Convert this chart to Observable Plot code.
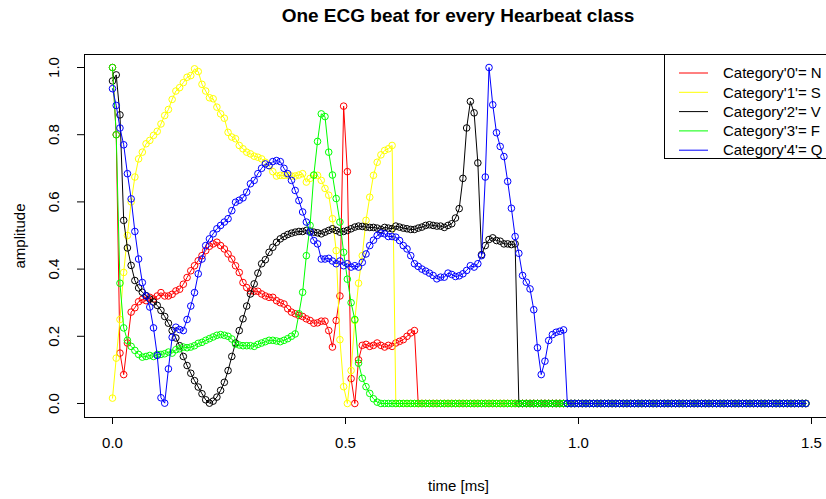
<!DOCTYPE html>
<html><head><meta charset="utf-8">
<script src="https://cdn.jsdelivr.net/npm/d3@7"></script>
<script src="https://cdn.jsdelivr.net/npm/@observablehq/plot@0.6"></script>
<style>
body{margin:0;background:#fff;}
#title{width:826px;height:34px;box-sizing:border-box;padding-left:90px;text-align:center;font:bold 19px "Liberation Sans",Arial,sans-serif;line-height:32px;color:#000;}
</style></head><body>
<div id="title">One ECG beat for every Hearbeat class</div>
<div id="chart"></div>
<script>
// Sampling rate of the beats (Hz): sample i is at time i / SAMPLE_RATE
const SAMPLE_RATE = 125;

const labels = ["Category'0'= N", "Category'1'= S", "Category'2'= V", "Category'3'= F", "Category'4'= Q"];
const colors = ["#FF0000", "#FFFF00", "#000000", "#00FF00", "#0000FF"];
const xTicks = [0, 0.5, 1.0, 1.5];
const yTicks = [0, 0.2, 0.4, 0.6, 0.8, 1.0];

const catN = [1.0,0.80,0.15,0.086,0.18,0.272,0.285,0.303,0.31,0.306,
0.316,0.311,0.32,0.33,0.32,0.32,0.325,0.335,0.34,0.355,
0.375,0.395,0.41,0.425,0.44,0.455,0.468,0.475,0.48,0.47,
0.46,0.445,0.43,0.41,0.39,0.36,0.345,0.335,0.334,0.334,
0.326,0.32,0.316,0.316,0.306,0.30,0.296,0.282,0.272,0.267,
0.262,0.259,0.252,0.247,0.239,0.24,0.245,0.245,0.217,0.168,
0.247,0.32,0.885,0.69,0.074,0.0,0.13,0.173,0.176,0.17,
0.173,0.18,0.173,0.168,0.173,0.17,0.18,0.185,0.19,0.2,
0.21,0.217,
0,0,0,0,0,0,0,0,0,0, 0,0,0,0,0,0,0,0,0,0, 0,0,0,0,0,0,0,0,0,0, 0,0,0,0,0,0,0,0,0,0, 0,0,0,0,0,0,0,0,0,0,
0,0,0,0,0,0,0,0,0,0, 0,0,0,0,0,0,0,0,0,0, 0,0,0,0,0,0,0,0,0,0, 0,0,0,0,0,0,0,0,0,0, 0,0,0,0,0,0,0,0,0,0,
0,0,0,0,0];

const catS = [0.016,0.135,0.25,0.39,0.50,0.60,0.674,0.728,0.748,0.773,
0.783,0.798,0.81,0.832,0.857,0.875,0.905,0.93,0.94,0.955,
0.971,0.976,0.996,0.988,0.95,0.93,0.91,0.907,0.882,0.862,
0.849,0.807,0.793,0.788,0.768,0.758,0.748,0.743,0.736,0.733,
0.728,0.718,0.708,0.69,0.677,0.679,0.679,0.679,0.677,0.677,
0.68,0.684,0.659,0.67,0.679,0.679,0.664,0.64,0.62,0.55,
0.455,0.19,0.05,0.0,0.098,0.247,0.358,0.44,0.545,0.614,
0.679,0.718,0.74,0.753,0.758,0.768,
0,0,0,0,0,0,0,0,0,0, 0,0,0,0,0,0,0,0,0,0, 0,0,0,0,0,0,0,0,0,0, 0,0,0,0,0,0,0,0,0,0, 0,0,0,0,0,0,0,0,0,0,
0,0,0,0,0,0,0,0,0,0, 0,0,0,0,0,0,0,0,0,0, 0,0,0,0,0,0,0,0,0,0, 0,0,0,0,0,0,0,0,0,0, 0,0,0,0,0,0,0,0,0,0,
0,0,0,0,0,0,0,0,0,0, 0];

const catV = [0.96,0.978,0.859,0.545,0.463,0.411,0.366,0.344,0.331,0.321,
0.311,0.302,0.292,0.277,0.259,0.239,0.217,0.195,0.172,0.14,
0.113,0.09,0.068,0.049,0.029,0.011,0.001,0.007,0.019,0.039,
0.063,0.098,0.14,0.18,0.217,0.252,0.29,0.326,0.356,0.388,
0.416,0.428,0.45,0.465,0.48,0.49,0.497,0.503,0.507,0.51,
0.512,0.512,0.515,0.513,0.51,0.508,0.505,0.51,0.515,0.52,
0.515,0.51,0.512,0.515,0.52,0.525,0.528,0.527,0.525,0.524,
0.524,0.522,0.518,0.524,0.522,0.52,0.528,0.525,0.522,0.52,
0.518,0.518,0.522,0.525,0.53,0.532,0.53,0.528,0.528,0.524,
0.53,0.535,0.552,0.58,0.67,0.82,0.899,0.865,0.716,0.443,
0.47,0.488,0.493,0.485,0.483,0.475,0.475,0.473,0.475,
0,0,0,0,0,0,0,0,0,0, 0,0,0,0,0,0,0,0,0,0, 0,0,0,0,0,0,0,0,0,0, 0,0,0,0,0,0,0,0,0,0, 0,0,0,0,0,0,0,0,0,0,
0,0,0,0,0,0,0,0,0,0, 0,0,0,0,0,0,0,0,0,0, 0,0,0,0,0,0,0,0];

const catF = [1.0,0.80,0.358,0.225,0.188,0.170,0.158,0.146,0.138,0.140,
0.143,0.140,0.146,0.146,0.148,0.153,0.150,0.160,0.163,0.168,
0.166,0.168,0.172,0.179,0.182,0.188,0.193,0.198,0.203,0.205,
0.203,0.2,0.192,0.177,0.174,0.172,0.172,0.172,0.17,0.176,
0.18,0.184,0.188,0.188,0.186,0.184,0.188,0.193,0.2,0.207,
0.267,0.331,0.44,0.53,0.68,0.78,0.862,0.854,0.748,0.68,
0.61,0.54,0.45,0.37,0.30,0.25,0.12,0.075,0.05,0.03,
0.014,0.004,
0,0,0,0,0,0,0,0,0,0, 0,0,0,0,0,0,0,0,0,0, 0,0,0,0,0,0,0,0,0,0, 0,0,0,0,0,0,0,0,0,0, 0,0,0,0,0,0,0,0,0,0,
0,0,0,0,0,0,0,0,0,0, 0,0,0,0,0,0,0,0,0,0, 0,0,0,0,0,0,0,0,0,0, 0,0,0,0,0,0,0,0,0,0, 0,0,0,0,0,0,0,0,0,0,
0,0,0,0,0,0,0,0,0,0, 0,0,0,0,0];

const catQ = [0.937,0.887,0.82,0.77,0.684,0.609,0.512,0.43,0.36,0.32,
0.287,0.225,0.143,0.017,0.001,0.103,0.197,0.227,0.22,0.217,
0.25,0.29,0.33,0.386,0.43,0.47,0.49,0.505,0.52,0.53,
0.54,0.55,0.574,0.599,0.605,0.612,0.629,0.654,0.664,0.684,
0.70,0.713,0.708,0.72,0.723,0.72,0.70,0.684,0.664,0.634,
0.604,0.57,0.54,0.51,0.485,0.475,0.43,0.43,0.432,0.424,
0.416,0.424,0.41,0.416,0.406,0.41,0.406,0.42,0.445,0.47,
0.486,0.5,0.507,0.505,0.497,0.497,0.495,0.485,0.47,0.46,
0.44,0.416,0.408,0.40,0.394,0.388,0.381,0.371,0.376,0.376,
0.388,0.384,0.378,0.38,0.386,0.396,0.41,0.406,0.416,0.44,
0.674,1.0,0.889,0.806,0.765,0.735,0.661,0.581,0.497,0.447,
0.381,0.361,0.341,0.279,0.166,0.086,0.126,0.1875,0.205,0.212,
0.215,0.219,
0,0,0,0,0,0,0,0,0,0, 0,0,0,0,0,0,0,0,0,0, 0,0,0,0,0,0,0,0,0,0, 0,0,0,0,0,0,0,0,0,0, 0,0,0,0,0,0,0,0,0,0,
0,0,0,0,0,0,0,0,0,0, 0,0,0,0,0];

const seriesValues = [catN, catS, catV, catF, catQ];
const FONT = '"Liberation Sans", Arial, sans-serif';

const xDomain = [-0.0601, 1.5322];
const yDomain = [-0.0417, 1.0387];

const marks = [];
seriesValues.forEach((vals, k) => {
  const d = vals.map((v, i) => ({t: i / SAMPLE_RATE, v}));
  marks.push(Plot.line(d, {x: "t", y: "v", stroke: colors[k], strokeWidth: 1}));
  marks.push(Plot.dot(d, {x: "t", y: "v", r: 3.3, stroke: colors[k], fill: "none", strokeWidth: 1}));
});

const chart = Plot.plot({
  width: 826,
  height: 465,
  marginTop: 20,
  marginBottom: 82,
  marginLeft: 84,
  marginRight: 0,
  style: {fontFamily: FONT, fontSize: "15px", background: "white", color: "black", overflow: "visible"},
  x: {domain: xDomain},
  y: {domain: yDomain},
  marks: [
    ...marks,
    Plot.ruleX([xDomain[0]], {stroke: "black", strokeWidth: 1}),
    Plot.ruleY([yDomain[0], yDomain[1]], {stroke: "black", strokeWidth: 1}),
    Plot.axisX({ticks: xTicks, tickSize: 7, tickPadding: 13, tickFormat: d => d.toFixed(1), fontSize: 15, label: null, stroke: "black"}),
    Plot.axisY({ticks: yTicks, tickSize: 7, tickFormat: () => "", label: null, stroke: "black"}),
    Plot.text(yTicks, {y: d => d, text: d => d.toFixed(1), frameAnchor: "left", dx: -30, rotate: -90, textAnchor: "middle", lineAnchor: "middle", fontSize: 15, fill: "black"}),
    Plot.text(["amplitude"], {frameAnchor: "left", dx: -64, rotate: -90, textAnchor: "middle", lineAnchor: "middle", fontSize: 15, fill: "black"}),
    Plot.text(["time [ms]"], {frameAnchor: "bottom", dx: 3, dy: 69, textAnchor: "middle", lineAnchor: "middle", fontSize: 15, fill: "black"})
  ]
});
document.getElementById("chart").appendChild(chart);

// Legend (inside the plot, top-right, as in the original)
const svg = d3.select(chart);
const lg = svg.append("g").attr("font-family", FONT).attr("font-size", 15).attr("text-anchor", "start");
lg.append("rect").attr("x", 664.5).attr("y", 20.5).attr("width", 200).attr("height", 104)
  .attr("fill", "white").attr("stroke", "black").attr("stroke-width", 1);
labels.forEach((lab, k) => {
  const y = 39 + k * 19.3;
  lg.append("line").attr("x1", 679).attr("x2", 708).attr("y1", y).attr("y2", y)
    .attr("stroke", colors[k]).attr("stroke-width", 1);
  lg.append("text").attr("x", 723).attr("y", y).attr("dy", "0.35em").attr("fill", "black")
    .attr("text-anchor", "start").text(lab);
});
</script>
</body></html>
